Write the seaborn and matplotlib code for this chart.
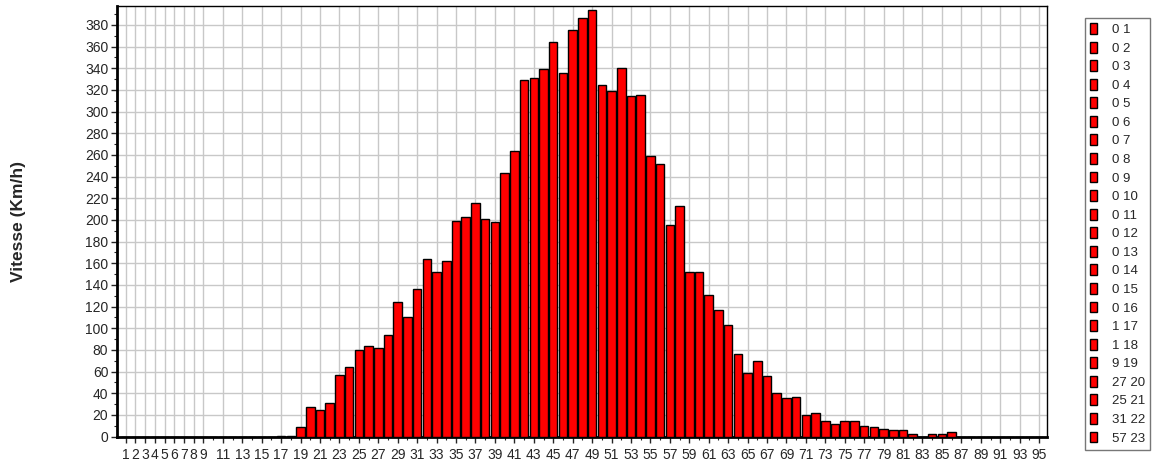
import numpy as np
import pandas as pd
import matplotlib
matplotlib.use("Agg")
import matplotlib.pyplot as plt
from matplotlib.patches import Patch
from matplotlib.ticker import MultipleLocator
import seaborn as sns

# classes 1..95 and their counts
classes = list(range(1, 96))
counts = [0] * 16 + [1, 1, 9, 27, 25, 31, 57, 64, 80, 84, 82, 94, 124, 110, 136,
                     164, 152, 162, 199, 203, 216, 201, 198, 243, 264, 329, 331, 339,
                     364, 336, 375, 386, 394, 325, 319, 340, 314, 315, 259, 252, 195,
                     213, 152, 152, 131, 117, 103, 76, 59, 70, 56, 40, 36, 37, 20, 22,
                     14, 12, 14, 14, 10, 9, 7, 6, 6, 2, 0, 2, 2, 4] + [0] * 9
tick_labels = [1, 2, 3, 4, 5, 6, 7, 8, 9] + list(range(11, 96, 2))
n_legend = 23

df = pd.DataFrame({"classe": classes, "n": counts})

sns.set_style("white")
plt.rcParams["font.family"] = ["Liberation Sans", "DejaVu Sans"]

fig = plt.figure(figsize=(11.55, 4.66), dpi=100)
ax = fig.add_axes([0.101, 0.063, 0.8058, 0.9242])

sns.barplot(data=df, x="classe", y="n", native_scale=True, color="#ff0000",
            saturation=1, width=0.88, edgecolor="black", linewidth=1.0, ax=ax, zorder=3)

ax.set_xlim(0.074, 95.85)
ax.set_ylim(0, 397.5)
ax.set_xticks(tick_labels)
ax.set_xticklabels([str(t) for t in tick_labels], fontsize=10)
ax.xaxis.set_minor_locator(MultipleLocator(1))
ax.yaxis.set_major_locator(MultipleLocator(20))
ax.yaxis.set_minor_locator(MultipleLocator(10))
ax.tick_params(axis="y", labelsize=10, length=4, width=1, direction="out", left=True, pad=2)
ax.tick_params(axis="x", length=4, width=1, direction="out", bottom=True, pad=4)
ax.tick_params(which="minor", length=2, width=0.8, left=True, bottom=True)

ax.grid(True, which="major", color="#c8c8c8", linewidth=1.0, zorder=0)
ax.set_axisbelow(True)
for side in ["top", "right"]:
    ax.spines[side].set_color("black")
    ax.spines[side].set_linewidth(1.0)
for side in ["left", "bottom"]:
    ax.spines[side].set_color("black")
    ax.spines[side].set_linewidth(2.0)

ax.set_xlabel("")
ax.set_ylabel("Vitesse (Km/h)", fontsize=12.5, fontweight="bold", labelpad=42)

handles = [Patch(facecolor="#ff0000", edgecolor="black", linewidth=1.0)
           for _ in range(n_legend)]
labels = [f"{counts[i]} {classes[i]}" for i in range(n_legend)]
leg = fig.legend(handles, labels, loc="upper left", bbox_to_anchor=(0.939, 0.962),
                 fontsize=9.5, frameon=True, fancybox=False, edgecolor="#555555",
                 handlelength=0.55, handleheight=0.9, handletextpad=1.1,
                 labelspacing=0.42, borderpad=0.4, borderaxespad=0)
leg.get_frame().set_linewidth(1.0)

fig.savefig("out.png", dpi=100)
